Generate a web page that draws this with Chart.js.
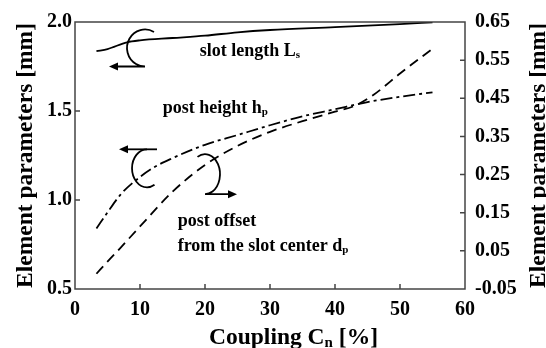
<!DOCTYPE html>
<html><head><meta charset="utf-8">
<script src="https://cdn.jsdelivr.net/npm/chart.js@4.4.0/dist/chart.umd.min.js"></script>
<style>html,body{margin:0;padding:0;background:#fff;}#wrap{width:546px;height:348px;}</style>
</head><body><div id="wrap"><canvas id="c" width="546" height="348"></canvas></div>
<script>
// ---- data ----
const xTicks = [0, 10, 20, 30, 40, 50, 60];
const leftTicks = [0.5, 1.0, 1.5, 2.0];
const rightTicks = [-0.05, 0.05, 0.15, 0.25, 0.35, 0.45, 0.55, 0.65];

const slotX = [3.3, 5, 8, 10, 15, 20, 25, 30, 40, 50, 55];
const slotY = [1.836, 1.848, 1.886, 1.897, 1.91, 1.923, 1.942, 1.955, 1.971, 1.988, 1.998];

const heightX = [3.3, 5, 7, 9, 12, 15, 20, 25, 30, 35, 40, 45, 50, 55];
const heightY = [0.84, 0.93, 1.03, 1.10, 1.18, 1.235, 1.31, 1.365, 1.42, 1.47, 1.51, 1.55, 1.58, 1.605];

const offsetX = [3.3, 5, 7, 10, 15, 20, 25, 30, 35, 40, 43, 46, 50, 55];
const offsetY = [-0.01, 0.022, 0.058, 0.114, 0.205, 0.275, 0.325, 0.362, 0.39, 0.415, 0.43, 0.46, 0.515, 0.58];

const xTitle = [{t:'Coupling C'},{t:'n',sub:true},{t:' [%]'}];
const yTitle = 'Element parameters [mm]';
const labelSlot = [{t:'slot length L'},{t:'s',sub:true}];
const labelHeight = [{t:'post height h'},{t:'p',sub:true}];
const labelOffset1 = [{t:'post offset'}];
const labelOffset2 = [{t:'from the slot center d'},{t:'p',sub:true}];

const pts = (xs, ys) => xs.map((x, i) => ({x: x, y: ys[i]}));
const FONT = "'Liberation Serif', 'Times New Roman', serif";

function drawRich(ctx, parts, x, y, size) {
  let cx = x;
  for (const p of parts) {
    if (p.sub) {
      ctx.font = 'bold ' + Math.round(size * 0.62) + 'px ' + FONT;
      ctx.fillText(p.t, cx, y + size * 0.12);
    } else {
      ctx.font = 'bold ' + size + 'px ' + FONT;
      ctx.fillText(p.t, cx, y);
    }
    cx += ctx.measureText(p.t).width;
  }
  return cx - x;
}
function arrowHead(ctx, x, y, dir) {
  ctx.beginPath();
  ctx.moveTo(x, y);
  ctx.lineTo(x - dir * 9, y - 4);
  ctx.lineTo(x - dir * 9, y + 4);
  ctx.closePath();
  ctx.fill();
}

const decor = {
  id: 'decor',
  afterDraw(chart) {
    const ctx = chart.ctx, a = chart.chartArea;
    const xs = chart.scales.x, yl = chart.scales.y, yr = chart.scales.y2;
    ctx.save();
    // frame
    ctx.strokeStyle = '#444'; ctx.lineWidth = 1.5;
    ctx.strokeRect(a.left, a.top, a.right - a.left, a.bottom - a.top);
    // inward ticks
    ctx.beginPath();
    xTicks.slice(1, -1).forEach(v => { const p = xs.getPixelForValue(v); ctx.moveTo(p, a.bottom); ctx.lineTo(p, a.bottom - 5); });
    leftTicks.slice(1, -1).forEach(v => { const p = yl.getPixelForValue(v); ctx.moveTo(a.left, p); ctx.lineTo(a.left + 5, p); });
    rightTicks.slice(1, -1).forEach(v => { const p = yr.getPixelForValue(v); ctx.moveTo(a.right, p); ctx.lineTo(a.right - 5, p); });
    ctx.stroke();

    ctx.fillStyle = '#000';
    ctx.textBaseline = 'alphabetic';
    ctx.textAlign = 'left';
    // annotations
    drawRich(ctx, labelSlot, xs.getPixelForValue(19.2), yl.getPixelForValue(1.809), 18);
    drawRich(ctx, labelHeight, xs.getPixelForValue(13.5), yl.getPixelForValue(1.487), 18);
    drawRich(ctx, labelOffset1, xs.getPixelForValue(15.8), yl.getPixelForValue(0.853), 18);
    drawRich(ctx, labelOffset2, xs.getPixelForValue(15.8), yl.getPixelForValue(0.715), 18);

    // x title
    drawRich(ctx, xTitle, 209, 344, 23.5);
    // left and right titles (rotated, bottom-to-top)
    const cy = (a.top + a.bottom) / 2;
    ctx.font = 'bold 23.5px ' + FONT;
    ctx.textAlign = 'center';
    ctx.save(); ctx.translate(32, cy); ctx.rotate(-Math.PI / 2); ctx.fillText(yTitle, 0, 0); ctx.restore();
    ctx.save(); ctx.translate(545, cy); ctx.rotate(-Math.PI / 2); ctx.fillText(yTitle, 0, 0); ctx.restore();

    // loop arrows
    ctx.strokeStyle = '#000'; ctx.lineWidth = 1.8; ctx.fillStyle = '#000';
    // slot length: C opening right, arrow left at bottom
    let cx = xs.getPixelForValue(10.77), cyy = yl.getPixelForValue(1.854);
    ctx.beginPath(); ctx.ellipse(cx, cyy, 18, 18.5, 0, -Math.PI / 3, Math.PI / 2, true); ctx.lineTo(cx - 28, cyy + 18.5); ctx.stroke();
    arrowHead(ctx, cx - 36, cyy + 18.5, -1);
    // post height: C opening right, arrow left at top
    cx = xs.getPixelForValue(11.08); cyy = yl.getPixelForValue(1.178);
    ctx.beginPath(); ctx.moveTo(cx + 10, cyy - 19); ctx.lineTo(cx - 20, cyy - 19); ctx.stroke();
    arrowHead(ctx, cx - 28, cyy - 19, -1);
    ctx.beginPath(); ctx.ellipse(cx, cyy, 15, 19, 0, -Math.PI / 2, Math.PI / 3, true); ctx.stroke();
    // post offset: reversed C, arrow right at bottom
    cx = xs.getPixelForValue(20); cyy = yl.getPixelForValue(1.145);
    ctx.beginPath(); ctx.ellipse(cx, cyy, 15, 20, 0, -2 * Math.PI / 3, Math.PI / 2, false); ctx.lineTo(cx + 24, cyy + 20); ctx.stroke();
    arrowHead(ctx, cx + 32, cyy + 20, 1);
    ctx.restore();
  }
};

const tickFont = {family: FONT, size: 20, weight: 'bold'};
new Chart(document.getElementById('c'), {
  type: 'line',
  data: {
    datasets: [
      {label: 'slot length Ls', data: pts(slotX, slotY), yAxisID: 'y', borderColor: '#000', borderWidth: 1.8, pointRadius: 0, cubicInterpolationMode: 'monotone'},
      {label: 'post height hp', data: pts(heightX, heightY), yAxisID: 'y', borderColor: '#000', borderWidth: 1.8, borderDash: [12, 4, 3, 4], pointRadius: 0, cubicInterpolationMode: 'monotone'},
      {label: 'post offset dp', data: pts(offsetX, offsetY), yAxisID: 'y2', borderColor: '#000', borderWidth: 1.8, borderDash: [10, 6], pointRadius: 0, cubicInterpolationMode: 'monotone'}
    ]
  },
  options: {
    responsive: false, animation: false,
    layout: {padding: {top: 17, left: 0, right: 0, bottom: 0}},
    plugins: {legend: {display: false}, tooltip: {enabled: false}},
    scales: {
      x: {type: 'linear', min: 0, max: 60,
        afterBuildTicks: s => { s.ticks = xTicks.map(v => ({value: v})); },
        afterFit: s => { s.height = 59; },
        grid: {display: false, drawTicks: false}, border: {display: false},
        ticks: {font: tickFont, color: '#000', padding: 9, maxRotation: 0}},
      y: {type: 'linear', position: 'left', min: 0.5, max: 2.0,
        afterBuildTicks: s => { s.ticks = leftTicks.map(v => ({value: v})); },
        afterFit: s => { s.width = 75; },
        grid: {display: false, drawTicks: false}, border: {display: false},
        ticks: {font: tickFont, color: '#000', padding: 3, callback: v => Number(v).toFixed(1)}},
      y2: {type: 'linear', position: 'right', min: -0.05, max: 0.65,
        afterBuildTicks: s => { s.ticks = rightTicks.map(v => ({value: v})); },
        afterFit: s => { s.width = 81; },
        grid: {display: false, drawTicks: false}, border: {display: false},
        ticks: {font: tickFont, color: '#000', padding: 10, callback: v => Number(v).toFixed(2)}}
    }
  },
  plugins: [decor]
});
</script></body></html>
